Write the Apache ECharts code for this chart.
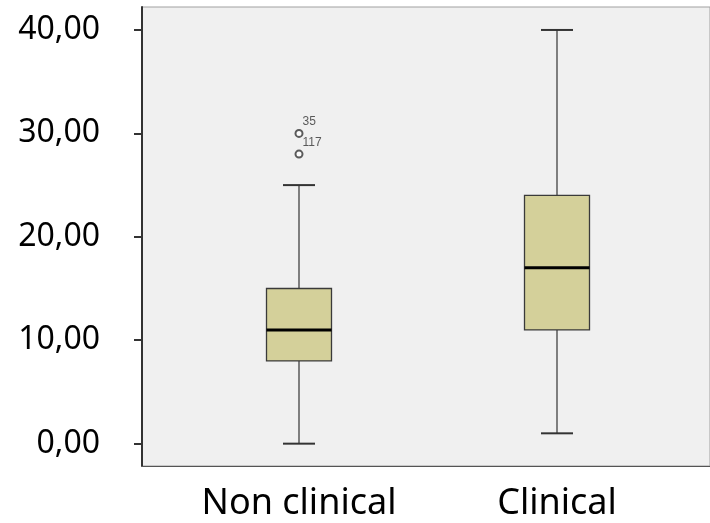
<!DOCTYPE html>
<html>
<head>
<meta charset="utf-8">
<script src="https://cdn.jsdelivr.net/npm/echarts@6/dist/echarts.min.js"></script>
<style>
  html, body { margin: 0; padding: 0; background: #fff; }
  #chart { width: 710px; height: 523px; }
</style>
</head>
<body>
<div id="chart"></div>
<script>
const categories = ["Non clinical", "Clinical"];
const boxMin = [0, 1];
const boxQ1 = [8, 11];
const boxMedian = [11, 17];
const boxQ3 = [15, 24];
const boxMax = [25, 40];
const outlierCategory = [0, 0];
const outlierValues = [30, 28];
const outlierCases = ["35", "117"];
const yTicks = [0, 10, 20, 30, 40];

const yMin = -2.16;
const yMax = 42.22;
const fontFamily = "'Noto Sans', sans-serif";

const boxData = categories.map((c, i) => [i, boxMin[i], boxQ1[i], boxMedian[i], boxQ3[i], boxMax[i]]);
const outlierData = outlierValues.map((v, i) => ({ name: outlierCases[i], value: [outlierCategory[i], v] }));

const renderBox = (params, api) => {
  const idx = api.value(0);
  const pMin = api.coord([idx, api.value(1)]);
  const pQ1 = api.coord([idx, api.value(2)]);
  const pMed = api.coord([idx, api.value(3)]);
  const pQ3 = api.coord([idx, api.value(4)]);
  const pMax = api.coord([idx, api.value(5)]);
  const x = pMed[0];
  const half = 32.5;
  const cap = 16;
  const line = { stroke: "#333", lineWidth: 1.2 };
  return {
    type: "group",
    children: [
      { type: "line", shape: { x1: x, y1: pQ3[1], x2: x, y2: pMax[1] }, style: line },
      { type: "line", shape: { x1: x - cap, y1: pMax[1], x2: x + cap, y2: pMax[1] }, style: { stroke: "#333", lineWidth: 2 } },
      { type: "line", shape: { x1: x, y1: pQ1[1], x2: x, y2: pMin[1] }, style: line },
      { type: "line", shape: { x1: x - cap, y1: pMin[1], x2: x + cap, y2: pMin[1] }, style: { stroke: "#333", lineWidth: 2 } },
      {
        type: "rect",
        shape: { x: x - half, y: pQ3[1], width: half * 2, height: pQ1[1] - pQ3[1] },
        style: { fill: "#d4d09a", stroke: "#3a3a3a", lineWidth: 1.3 },
      },
      { type: "line", shape: { x1: x - half, y1: pMed[1], x2: x + half, y2: pMed[1] }, style: { stroke: "#000", lineWidth: 3 } },
    ],
  };
};

const chart = echarts.init(document.getElementById("chart"));
chart.setOption({
  animation: false,
  grid: [
    { left: 170, right: 24, top: 7, bottom: 57 },
    { left: 142, right: -5, top: 7, bottom: 57, show: true, backgroundColor: "#f0f0f0", borderColor: "#a0a0a0", borderWidth: 1 },
  ],
  xAxis: [
    {
      gridIndex: 0,
      type: "category",
      data: categories,
      axisLine: { show: false },
      axisTick: { show: false },
      axisLabel: { fontSize: 36, color: "#000", fontFamily: fontFamily, margin: 20 },
    },
    {
      gridIndex: 1,
      type: "value",
      min: 0,
      max: 1,
      axisLine: { show: true, onZero: false, lineStyle: { color: "#555", width: 1 } },
      axisTick: { show: false },
      axisLabel: { show: false },
      splitLine: { show: false },
    },
  ],
  yAxis: [
    {
      gridIndex: 0,
      type: "value",
      min: yMin,
      max: yMax,
      show: false,
      splitLine: { show: false },
    },
    {
      gridIndex: 1,
      type: "value",
      min: yMin,
      max: yMax,
      axisLine: { show: true, onZero: false, lineStyle: { color: "#333", width: 2 } },
      axisTick: { show: true, customValues: yTicks, length: 8, lineStyle: { color: "#333", width: 2 } },
      axisLabel: {
        customValues: yTicks,
        formatter: (v) => v.toFixed(2).replace(".", ","),
        fontSize: 32,
        color: "#000",
        fontFamily: fontFamily,
        margin: 42,
      },
      splitLine: { show: false },
    },
  ],
  series: [
    {
      type: "custom",
      xAxisIndex: 0,
      yAxisIndex: 0,
      data: boxData,
      encode: { x: 0, y: [1, 2, 3, 4, 5] },
      renderItem: renderBox,
    },
    {
      type: "scatter",
      xAxisIndex: 0,
      yAxisIndex: 0,
      data: outlierData,
      symbol: "emptyCircle",
      symbolSize: 7,
      itemStyle: { color: "#333", borderColor: "#333", borderWidth: 1.2 },
      label: {
        show: true,
        formatter: "{b}",
        position: [8, -13],
        fontSize: 12,
        color: "#333",
        fontFamily: "'Liberation Sans', Arial, sans-serif",
      },
    },
  ],
});
</script>
</body>
</html>
